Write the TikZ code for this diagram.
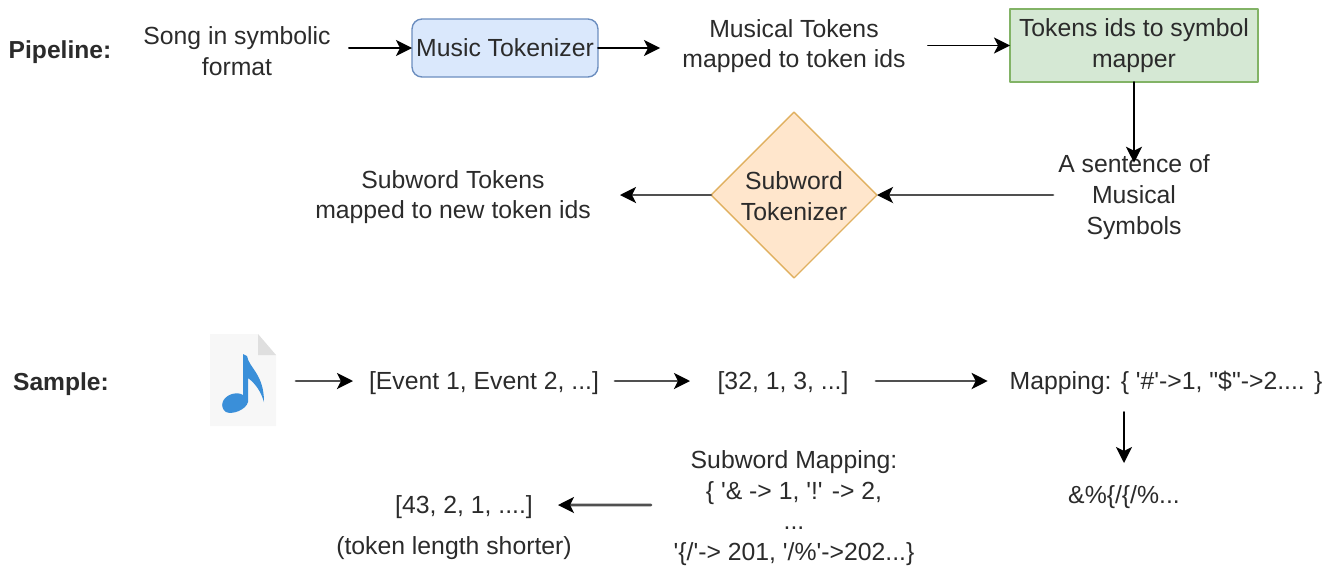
\documentclass[tikz,border=0pt]{standalone}
\usepackage{fontspec}
\setmainfont{Liberation Sans}
\usetikzlibrary{arrows.meta,shapes.geometric}
\definecolor{txtgray}{HTML}{2B2B2B}
\definecolor{linegray}{HTML}{505050}
\definecolor{noteblue}{HTML}{3A8FD9}
\definecolor{tokfill}{HTML}{DAE8FC}
\definecolor{tokline}{HTML}{6C8EBF}
\definecolor{mapfill}{HTML}{D5E8D4}
\definecolor{mapline}{HTML}{82B366}
\definecolor{subfill}{HTML}{FFE6CC}
\definecolor{subline}{HTML}{E0B060}
\begin{document}
\begin{tikzpicture}[x=.02cm, y=-.02cm, line cap=round, line join=round, inner sep=0pt, outer sep=0pt,
	every node/.append style={font=\fontsize{14.1}{17.5}\selectfont, text=txtgray, align=center},
	plain/.style={minimum width=#1cm, minimum height=1cm},
	label/.style={font=\fontsize{14}{17}\selectfont\bfseries},
	flow/.style={line width=1.1pt, -{Stealth[length=.32cm, width=.32cm, inset=.08cm]}},
	sample/.style={line width=1.6pt, draw=linegray, -{Stealth[black, length=.32cm, width=.32cm, inset=.08cm]}}]
	
	\useasboundingbox (0,0) rectangle (1333,566);
	
	% Pipeline row
	\node[label] (pipeline) at (60,52) {Pipeline:};
	\node[plain=4.48] (song) at (237,51) {Song in symbolic\\format};
	\node[draw=tokline, fill=tokfill, rounded corners=.2cm, line width=.8pt, minimum width=3.72cm, minimum height=1.16cm] (tokenizer) at (505,48) {Music Tokenizer};
	\node[plain=5.36] (tokens) at (794,46) {Musical Tokens\\mapped to token ids};
	\node[draw=mapline, fill=mapfill, line width=.8pt, minimum width=4.96cm, minimum height=1.46cm] (mapper) at (1134,45.5) {Tokens ids to symbol\\mapper};
	
	% Second row
	\node[plain=3.24] (sentence) at (1134,197) {A sentence of\\Musical\\Symbols};
	\node[diamond, aspect=1, draw=subline, fill=subfill, line width=.8pt, minimum width=3.32cm, minimum height=3.32cm] (subword) at (794,195) {};
	\node (subtext) at (794,196) {Subword\\Tokenizer};
	\node[plain=6.68] (newids) at (453,197) {Subword Tokens\\mapped to new token ids};
	
	% Sample row
	\coordinate (samplerow) at (0,381);
	\node[label] (samplelabel) at (61,384) {Sample:};
	\node[minimum width=1.72cm, minimum height=1.84cm] (songfile) at (244,380) {};
	\fill[gray!6] (210,334) -- (258,334) -- (276,355) -- (276,426) -- (210,426) -- cycle;
	\fill[gray!25] (258,334) -- (276,355) -- (258,355) -- cycle;
	% Nota
	\fill[noteblue] (243,354) -- (247,356) .. controls (249,368) and (264,374) .. (264,402)
	.. controls (261,392) and (256,384) .. (248,378) -- (248,402)
	.. controls (246,410) and (232,415) .. (226,412)
	.. controls (219,407) and (222,397) .. (232,394)
	.. controls (236,393) and (240,393) .. (243,395) -- cycle;
	
	\node[plain=5.24] (events) at (484,383) {[Event 1, Event 2, ...]};
	\node[plain=3.72] (ids) at (783,383) {[32, 1, 3, ...]};
	\node[inner xsep=.44cm, minimum height=1.16cm] (mapping) at (1166,383) {Mapping: \{ \textquotesingle\#\textquotesingle->1, \textquotedbl\$\textquotedbl->2.... \}};
	\node[plain=3, minimum height=1.36cm] (symbols) at (1124,497) {\&\%\{/\{/\%...};
	\node[plain=5.72] (submapping) at (794,508) {Subword Mapping:\\\{ \textquotesingle\& -> 1, \textquotesingle!\textquotesingle{} -> 2,\\...\\\textquotesingle\{/\textquotesingle-> 201, \textquotesingle/\%\textquotesingle->202...\}};
	\node[plain=3.76] (newtokens) at (464,507) {[43, 2, 1, ....]};
	\node (shorter) at (454,548) {(token length shorter)};
	
	% Arrows
	\draw[flow] (song.east |- tokenizer.west) -- (tokenizer.west);
	\draw[flow] (tokenizer.east) -- (tokenizer.east -| tokens.west);
	\draw[flow] (tokens.east |- mapper.west) -- (mapper.west);
	\draw[flow, shorten >=-.16cm] (mapper.south) -- (sentence.north);
	\draw[sample] (sentence.west |- subword.east) -- (subword.east);
	\draw[sample] (subword.west) -- (subword.west -| newids.east);
	
	\draw[sample] (songfile.east |- samplerow) ++(9,0) -- (events.west |- samplerow);
	\draw[sample] (events.east |- samplerow) -- (ids.west |- samplerow);
	\draw[sample] (ids.east |- samplerow) -- (mapping.west |- samplerow);
	\draw[flow] (symbols.north |- mapping.south) -- (symbols.north);
	\draw[sample] (submapping.west |- newtokens.east) ++(0,-2) -- ([yshift=.04cm]newtokens.east);
	
\end{tikzpicture}
\end{document}
